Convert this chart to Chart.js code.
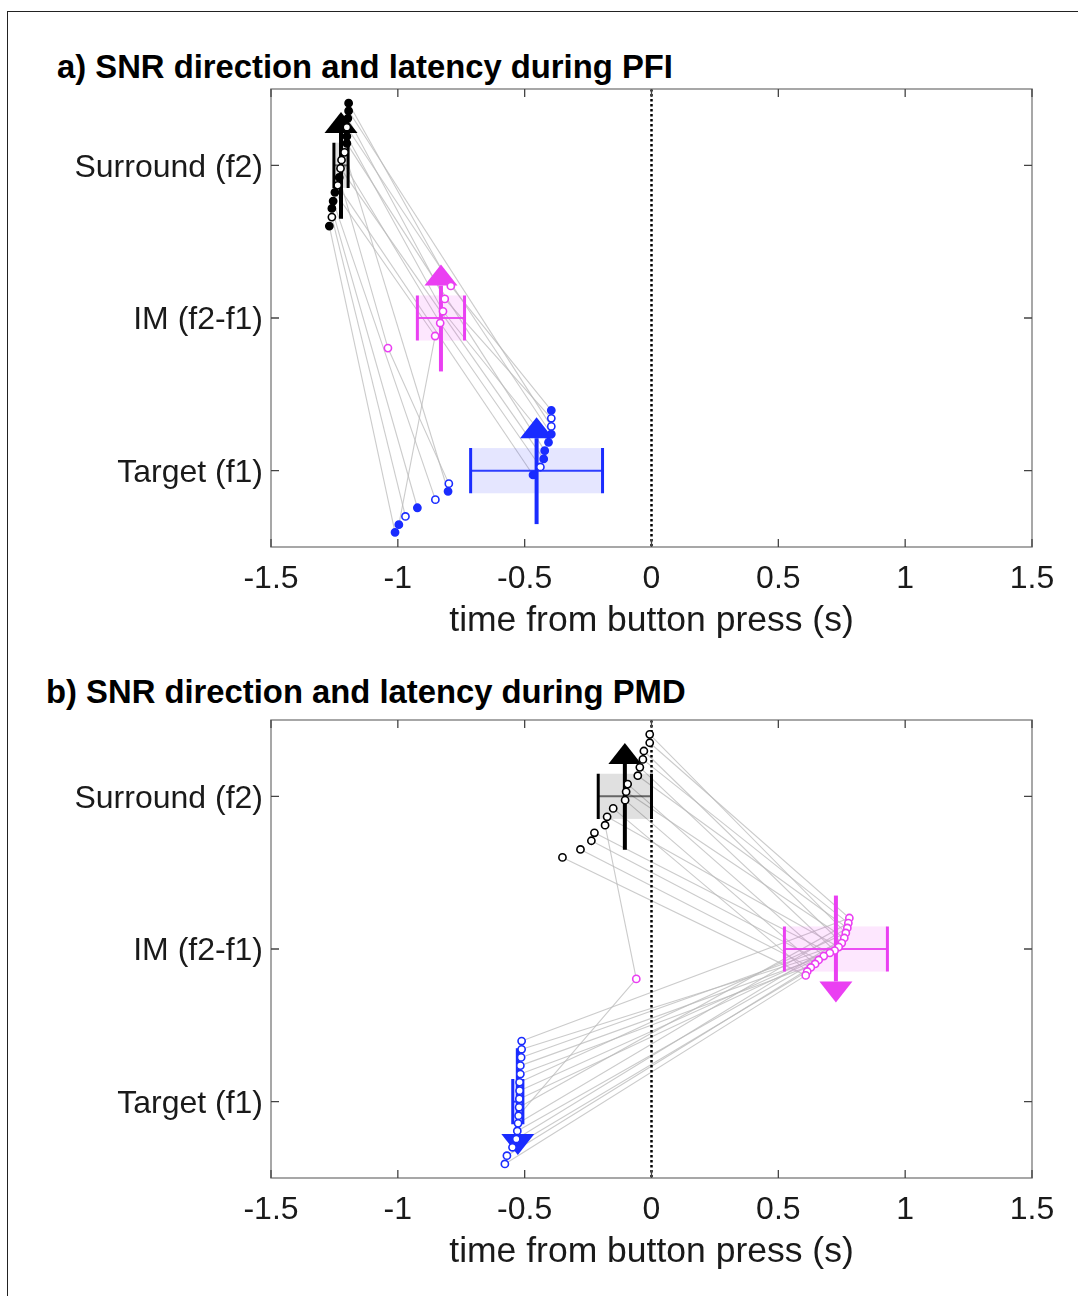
<!DOCTYPE html>
<html>
<head>
<meta charset="utf-8">
<script src="https://cdn.jsdelivr.net/npm/chart.js@4.4.1/dist/chart.umd.min.js"></script>
<style>
  html, body { margin:0; padding:0; background:#fff; }
  body { width:1078px; height:1296px; position:relative; overflow:hidden; font-family:"Liberation Sans", Arial, sans-serif; }
  canvas { position:absolute; left:0; }
  .ptitle { position:absolute; font-weight:bold; font-size:32.8px; line-height:38px; color:#000; white-space:nowrap; }
  .frame { position:absolute; left:7px; top:11px; width:1200px; height:1400px; border-top:1px solid #222; border-left:1px solid #222; }
</style>
</head>
<body>
<div class="frame"></div>
<div class="ptitle" style="left:57px; top:48px;">a) SNR direction and latency during PFI</div>
<div class="ptitle" style="left:46px; top:673px;">b) SNR direction and latency during PMD</div>
<canvas id="ca" width="1078" height="647" style="top:0px"></canvas>
<canvas id="cb" width="1078" height="647" style="top:631px"></canvas>
<script>
// ---------- shared labels ----------
const categories = ['Target (f1)', 'IM (f2-f1)', 'Surround (f2)']; // y = 1, 2, 3
const xTickValues = [-1.5, -1, -0.5, 0, 0.5, 1, 1.5];
const xAxisTitle = 'time from button press (s)';

// ---------- panel a (PFI) ----------
const aSurLat = [-1.194,-1.194,-1.197,-1.201,-1.201,-1.201,-1.210,-1.222,-1.226,-1.231,-1.237,-1.248,-1.255,-1.260,-1.260,-1.270];
const aSurPos = [3.407,3.356,3.308,3.249,3.190,3.144,3.085,3.035,2.980,2.921,2.869,2.823,2.766,2.718,2.661,2.602];
const aSurSig = [1,1,1,0,1,1,0,0,0,1,0,1,1,1,0,1];
const aImLat  = [-0.791,-0.815,-0.822,-0.833,-0.853,-1.039];
const aImPos  = [2.210,2.125,2.044,1.967,1.882,1.803];
const aImSig  = [0,0,0,0,0,0];
const aTarLat = [-0.395,-0.395,-0.395,-0.395,-0.406,-0.421,-0.425,-0.438,-0.467,-0.799,-0.802,-0.852,-0.923,-0.970,-0.996,-1.011];
const aTarPos = [1.395,1.343,1.290,1.240,1.186,1.131,1.077,1.024,0.972,0.915,0.865,0.810,0.757,0.700,0.646,0.596];
const aTarSig = [1,0,0,1,1,1,1,0,1,0,1,0,1,0,1,1];
const aLinkIm  = [0,null,1,null,2,null,null,3,null,5,null,4,null,null,null,null];
const aLinkTar = [0,2,1,3,4,5,10,7,6,9,8,14,11,12,13,15];
const aMean = [-0.453, -0.830, -1.224];   // target, IM, surround
const aCI   = [0.260, 0.093, 0.028];
const aDir  = [1, 1, 1];

// ---------- panel b (PMD) ----------
const bSurLat = [-0.007,-0.007,-0.030,-0.034,-0.046,-0.054,-0.094,-0.100,-0.104,-0.151,-0.175,-0.183,-0.225,-0.237,-0.280,-0.351];
const bSurPos = [3.406,3.351,3.297,3.242,3.190,3.135,3.080,3.030,2.975,2.921,2.866,2.811,2.761,2.709,2.652,2.600];
const bSurSig = [0,0,0,0,0,0,0,0,0,0,0,0,0,0,0,0];
const bImLat  = [0.780,0.776,0.772,0.766,0.760,0.750,0.738,0.722,0.703,0.679,0.659,0.645,0.628,0.614,0.608,-0.060];
const bImPos  = [2.203,2.170,2.138,2.105,2.072,2.039,2.013,1.990,1.974,1.954,1.928,1.902,1.879,1.853,1.827,1.804];
const bImSig  = [0,0,0,0,0,0,0,0,0,0,0,0,0,0,0,0];
const bTarLat = [-0.512,-0.512,-0.514,-0.517,-0.517,-0.520,-0.520,-0.521,-0.522,-0.524,-0.526,-0.529,-0.533,-0.548,-0.570,-0.578];
const bTarPos = [1.397,1.343,1.290,1.236,1.181,1.127,1.072,1.018,0.963,0.908,0.858,0.808,0.755,0.701,0.646,0.592];
const bTarSig = [0,0,0,0,0,0,0,0,0,0,0,0,0,0,0,0];
const bLinkIm  = [3,0,5,1,7,2,9,4,11,13,6,15,8,10,12,14];
const bLinkTar = [5,0,2,8,1,10,3,12,4,13,6,9,7,11,14,15];
const bMean = [-0.527, 0.727, -0.105];
const bCI   = [0.020, 0.203, 0.105];
const bDir  = [-1, -1, 1];

// ---------- styles ----------
const COLORS = ['#1a2cff', '#ea3ff2', '#000000'];
const FILLS  = ['rgba(40,50,255,0.12)', 'rgba(240,60,245,0.12)', 'rgba(0,0,0,0.12)'];
const MIDS   = ['rgba(26,44,255,0.9)', 'rgba(234,63,242,0.9)', 'rgba(0,0,0,0.55)'];
const BOX_H = 0.148, ARROW_H = 0.35;
const FONT = '"Liberation Sans", Arial, Helvetica, sans-serif';
Chart.defaults.font.family = FONT;

function makeDecor(mean, ci, dir) {
  return {
    id: 'decor',
    beforeDatasetDraw(chart, args) {
      if (args.index !== 2) return;
      const {ctx, chartArea: ca, scales: {x, y}} = chart;
      ctx.save();
      ctx.beginPath(); ctx.rect(ca.left, ca.top, ca.right - ca.left, ca.bottom - ca.top); ctx.clip();
      for (let k = 0; k < 3; k++) {
        const cy = k + 1;
        const xl = x.getPixelForValue(mean[k] - ci[k]);
        const xr = x.getPixelForValue(mean[k] + ci[k]);
        const xm = x.getPixelForValue(mean[k]);
        const yt = y.getPixelForValue(cy + BOX_H);
        const yb = y.getPixelForValue(cy - BOX_H);
        const yc = y.getPixelForValue(cy);
        ctx.fillStyle = FILLS[k];
        ctx.fillRect(xl, yt, xr - xl, yb - yt);
        ctx.strokeStyle = MIDS[k]; ctx.lineWidth = 2;
        ctx.beginPath(); ctx.moveTo(xl, yc); ctx.lineTo(xr, yc); ctx.stroke();
        ctx.strokeStyle = COLORS[k]; ctx.lineWidth = 3;
        ctx.beginPath(); ctx.moveTo(xl, yt); ctx.lineTo(xl, yb); ctx.moveTo(xr, yt); ctx.lineTo(xr, yb); ctx.stroke();
        // arrow
        const tail = y.getPixelForValue(cy - dir[k] * ARROW_H);
        const tip = y.getPixelForValue(cy + dir[k] * ARROW_H);
        const s = Math.sign(tip - tail);
        const headLen = 21, headHalf = 16.5;
        const base = tip - s * headLen;
        ctx.lineWidth = 4;
        ctx.beginPath(); ctx.moveTo(xm, tail); ctx.lineTo(xm, base); ctx.stroke();
        ctx.fillStyle = COLORS[k];
        ctx.beginPath(); ctx.moveTo(xm, tip); ctx.lineTo(xm - headHalf, base); ctx.lineTo(xm + headHalf, base); ctx.closePath(); ctx.fill();
      }
      // dotted zero line
      const x0 = x.getPixelForValue(0);
      ctx.strokeStyle = '#000'; ctx.lineWidth = 2.5; ctx.setLineDash([2.5, 2.5]);
      ctx.beginPath(); ctx.moveTo(x0, ca.top); ctx.lineTo(x0, ca.bottom); ctx.stroke();
      ctx.restore();
    },
    afterDraw(chart) {
      const {ctx, chartArea: ca, scales: {x, y}} = chart;
      ctx.save();
      ctx.strokeStyle = '#8a8a8a'; ctx.lineWidth = 1.5;
      ctx.strokeRect(ca.left, ca.top, ca.right - ca.left, ca.bottom - ca.top);
      ctx.strokeStyle = '#444'; ctx.lineWidth = 1.3;
      const tl = 8;
      ctx.beginPath();
      x.ticks.forEach(t => {
        const px = x.getPixelForValue(t.value);
        ctx.moveTo(px, ca.bottom); ctx.lineTo(px, ca.bottom - tl);
        ctx.moveTo(px, ca.top); ctx.lineTo(px, ca.top + tl);
      });
      y.ticks.forEach(t => {
        const py = y.getPixelForValue(t.value);
        ctx.moveTo(ca.left, py); ctx.lineTo(ca.left + tl, py);
        ctx.moveTo(ca.right, py); ctx.lineTo(ca.right - tl, py);
      });
      ctx.stroke();
      ctx.restore();
    }
  };
}

function pts(lat, pos) { return lat.map((v, i) => ({x: v, y: pos[i]})); }

function makePanel(id, sur, im, tar, linkIm, linkTar, mean, ci, dir) {
  const groups = [tar, im, sur];
  const datasets = [];
  groups.forEach((g, k) => {
    datasets.push({
      type: 'scatter',
      data: pts(g.lat, g.pos),
      pointStyle: 'circle',
      pointRadius: 3.6,
      pointBorderWidth: 1.6,
      pointBorderColor: COLORS[k],
      pointBackgroundColor: g.sig.map(s => s ? COLORS[k] : '#ffffff'),
      showLine: false
    });
  });
  sur.lat.forEach((v, i) => {
    const d = [{x: v, y: sur.pos[i]}];
    if (linkIm[i] !== null) d.push({x: im.lat[linkIm[i]], y: im.pos[linkIm[i]]});
    d.push({x: tar.lat[linkTar[i]], y: tar.pos[linkTar[i]]});
    datasets.push({
      type: 'scatter', data: d, showLine: true,
      borderColor: 'rgba(185,185,185,0.75)', borderWidth: 1.1,
      pointRadius: 0, fill: false
    });
  });
  return new Chart(document.getElementById(id), {
    type: 'scatter',
    data: {datasets},
    options: {
      responsive: false, animation: false, devicePixelRatio: 1,
      layout: {padding: {left: 0, top: 89, right: 46, bottom: 0}},
      plugins: {legend: {display: false}, tooltip: {enabled: false}},
      events: [],
      scales: {
        x: {
          type: 'linear', min: -1.5, max: 1.5,
          afterBuildTicks: s => { s.ticks = xTickValues.map(v => ({value: v})); },
          afterFit: s => { s.height = 100; },
          grid: {display: false, drawTicks: false}, border: {display: false},
          ticks: {callback: v => String(v), font: {size: 32}, color: '#1a1a1a', padding: 13, maxRotation: 0, autoSkip: false},
          title: {display: true, text: xAxisTitle, font: {size: 35.5}, color: '#1a1a1a', padding: {top: 0, bottom: 4}}
        },
        y: {
          type: 'linear', min: 0.5, max: 3.5,
          afterBuildTicks: s => { s.ticks = categories.map((c, i) => ({value: i + 1})); },
          afterFit: s => { s.width = 271; },
          grid: {display: false, drawTicks: false}, border: {display: false},
          ticks: {callback: v => categories[Math.round(v) - 1], font: {size: 32}, color: '#1a1a1a', padding: 8, labelOffset: 2.5, autoSkip: false}
        }
      }
    },
    plugins: [makeDecor(mean, ci, dir)]
  });
}

makePanel('ca',
  {lat: aSurLat, pos: aSurPos, sig: aSurSig},
  {lat: aImLat, pos: aImPos, sig: aImSig},
  {lat: aTarLat, pos: aTarPos, sig: aTarSig},
  aLinkIm, aLinkTar, aMean, aCI, aDir);
makePanel('cb',
  {lat: bSurLat, pos: bSurPos, sig: bSurSig},
  {lat: bImLat, pos: bImPos, sig: bImSig},
  {lat: bTarLat, pos: bTarPos, sig: bTarSig},
  bLinkIm, bLinkTar, bMean, bCI, bDir);
</script>
</body>
</html>
